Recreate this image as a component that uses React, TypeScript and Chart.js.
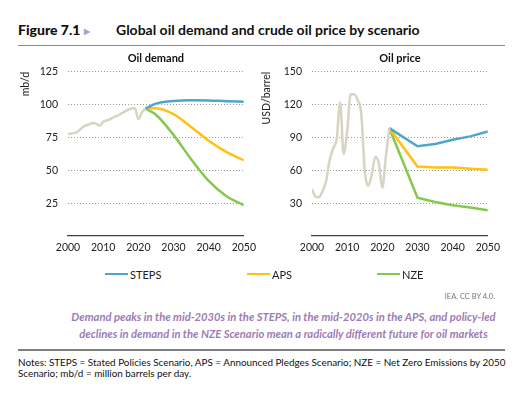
import React, { useEffect, useRef } from 'react';
import { Chart, registerables } from 'chart.js';

Chart.register(...registerables);

// ---------- data ----------
const histYears = [2000, 2001, 2002, 2003, 2004, 2005, 2006, 2007, 2008, 2009, 2010, 2011, 2012, 2013, 2014, 2015, 2016, 2017, 2018, 2019, 2020, 2021, 2022];
const demandHistory = [77.5, 78, 78.5, 80, 82.5, 84, 85, 86, 85.5, 84, 87, 88, 89, 90.5, 91.5, 93, 94.5, 96, 97, 97.5, 89, 94, 97];
const demandProjYears = [2022, 2025, 2030, 2035, 2040, 2045, 2050];
const demandSTEPS = [97, 100.8, 102.8, 103.4, 103.2, 102.6, 102.2];
const demandAPS = [97, 97.3, 92.8, 83, 72.5, 64, 57.5];
const demandNZE = [97, 92.3, 77, 58.5, 42, 30.5, 23.5];

const priceHistory = [43, 36, 35.5, 41, 50, 69, 80, 88, 122, 75, 95.5, 129.5, 129.5, 124, 112, 60, 46, 56, 72.5, 66.5, 44, 72.5, 98.5];
const priceProjYears = [2022, 2030, 2035, 2040, 2045, 2050];
const priceSTEPS = [98.5, 82, 84, 88, 91, 95.5];
const priceAPS = [98.5, 63.5, 62.5, 62.5, 61.5, 60.5];
const priceNZE = [98.5, 35, 31, 28, 26, 23.5];

const scenarioNames = ['STEPS', 'APS', 'NZE'];
const scenarioColors = ['#4EA6C9', '#FFC20E', '#86C750'];
const historyColor = '#D8D4C2';

const xTickStep = 10;
const demandTicks = { max: 125, step: 25 };
const priceTicks = { max: 150, step: 30 };

const FONT = 'Lato, "Liberation Sans", sans-serif';

function pts(xs: number[], ys: number[]) {
  return xs.map((x, i) => ({ x, y: ys[i] }));
}

type ChartProps = {
  left: number;
  top: number;
  width: number;
  height: number;
  title: string;
  yTitle: string;
  yTitlePad: number;
  yWidth: number;
  yMax: number;
  yStep: number;
  history: number[];
  projYears: number[];
  series: number[][];
  smooth: boolean;
};

function LineChart(p: ChartProps) {
  const ref = useRef<HTMLCanvasElement | null>(null);
  useEffect(() => {
    if (!ref.current) return;
    const datasets: any[] = [
      {
        label: 'History',
        data: pts(histYears, p.history),
        borderColor: historyColor,
        borderWidth: 2.5,
        pointRadius: 0,
        cubicInterpolationMode: 'monotone',
        tension: 0.4,
      },
    ];
    p.series.forEach((s, i) => {
      datasets.push({
        label: scenarioNames[i],
        data: pts(p.projYears, s),
        borderColor: scenarioColors[i],
        borderWidth: 2.5,
        pointRadius: 0,
        cubicInterpolationMode: p.smooth ? 'monotone' : 'default',
        tension: p.smooth ? 0.4 : 0,
      });
    });
    const chart = new Chart(ref.current, {
      type: 'line',
      data: { datasets },
      options: {
        animation: false,
        responsive: false,
        maintainAspectRatio: false,
        layout: { padding: { left: 0, right: 14, top: 0, bottom: 0 } },
        plugins: {
          legend: { display: false },
          tooltip: { enabled: false },
          title: {
            display: true,
            text: p.title,
            fullSize: false,
            color: '#111',
            font: { family: FONT, size: 11, weight: 'bold' },
            padding: { top: 4, bottom: 6.6 },
          },
        },
        scales: {
          x: {
            type: 'linear',
            min: 2000,
            max: 2050,
            ticks: {
              stepSize: xTickStep,
              color: '#222',
              font: { family: FONT, size: 10.5 },
              padding: 5,
              maxRotation: 0,
              callback: (v: any) => String(v),
            },
            grid: { display: false, drawTicks: false },
            border: { display: true, color: '#404040', width: 1.2 },
            afterFit: (s: any) => {
              s.height = 20;
            },
          },
          y: {
            min: 0,
            max: p.yMax,
            ticks: {
              stepSize: p.yStep,
              color: '#222',
              font: { family: FONT, size: 10.5 },
              padding: 10,
              callback: (v: any) => (v === 0 ? '' : String(v)),
            },
            grid: {
              drawTicks: false,
              color: (ctx: any) => (ctx.tick && ctx.tick.value === 0 ? 'rgba(0,0,0,0)' : '#9a9a9a'),
              lineWidth: 1,
            },
            border: { display: false, dash: [1, 2] },
            title: {
              display: true,
              text: p.yTitle,
              align: 'end',
              color: '#222',
              font: { family: FONT, size: 10.5 },
              padding: { top: p.yTitlePad, bottom: 0 },
            },
            afterFit: (s: any) => {
              s.width = p.yWidth;
            },
          },
        },
      } as any,
    });
    return () => chart.destroy();
  }, []);
  return (
    <canvas
      ref={ref}
      width={p.width}
      height={p.height}
      style={{ position: 'absolute', left: p.left, top: p.top, width: p.width, height: p.height }}
    />
  );
}

function LegendItem({ x, name, color }: { x: number; name: string; color: string }) {
  return (
    <div style={{ position: 'absolute', left: x, top: 267, height: 14, display: 'flex', alignItems: 'center' }}>
      <div style={{ width: 23, height: 2.5, background: color }} />
      <span style={{ marginLeft: 2, fontSize: 11, color: '#222', fontFamily: FONT }}>{name}</span>
    </div>
  );
}

export default function App() {
  const legendX = [105, 247, 377];
  return (
    <div
      style={{
        position: 'fixed',
        left: 0,
        top: 0,
        width: 529,
        height: 395,
        background: '#fff',
        fontFamily: FONT,
        overflow: 'hidden',
      }}
    >
      {/* Title */}
      <div style={{ position: 'absolute', left: 18, top: 21, fontSize: 14, fontWeight: 900, color: '#111', whiteSpace: 'nowrap', lineHeight: '18px' }}>
        Figure 7.1 <span style={{ color: '#B69AD0', fontSize: 8, verticalAlign: 1 }}>▶</span>
      </div>
      <div style={{ position: 'absolute', left: 116, top: 21, fontSize: 14, fontWeight: 700, color: '#111', whiteSpace: 'nowrap', lineHeight: '18px' }}>
        Global oil demand and crude oil price by scenario
      </div>
      <div style={{ position: 'absolute', left: 18, top: 44.5, width: 487, height: 1, background: '#8a8a8a' }} />

      <LineChart
        left={14}
        top={48}
        width={247}
        height={208}
        title="Oil demand"
        yTitle="mb/d"
        yTitlePad={5.4}
        yWidth={54}
        yMax={demandTicks.max}
        yStep={demandTicks.step}
        history={demandHistory}
        projYears={demandProjYears}
        series={[demandSTEPS, demandAPS, demandNZE]}
        smooth={true}
      />
      <LineChart
        left={258}
        top={48}
        width={247}
        height={208}
        title="Oil price"
        yTitle="USD/barrel"
        yTitlePad={2.4}
        yWidth={54}
        yMax={priceTicks.max}
        yStep={priceTicks.step}
        history={priceHistory}
        projYears={priceProjYears}
        series={[priceSTEPS, priceAPS, priceNZE]}
        smooth={false}
      />

      {scenarioNames.map((n, i) => (
        <LegendItem key={n} x={legendX[i]} name={n} color={scenarioColors[i]} />
      ))}

      <div style={{ position: 'absolute', right: 529 - 495, top: 292, fontSize: 7.5, color: '#777', whiteSpace: 'nowrap' }}>
        IEA. CC BY 4.0.
      </div>

      <div
        style={{
          position: 'absolute',
          left: 40,
          width: 487,
          top: 308,
          textAlign: 'center',
          fontSize: 11.2,
          lineHeight: '17px',
          fontStyle: 'italic',
          fontWeight: 700,
          color: '#9E7BB5',
          whiteSpace: 'nowrap',
        }}
      >
        Demand peaks in the mid-2030s in the STEPS, in the mid-2020s in the APS, and policy-led
        <br />
        declines in demand in the NZE Scenario mean a radically different future for oil markets
      </div>

      <div style={{ position: 'absolute', left: 18, top: 349, width: 487, height: 2, background: '#7f7f7f' }} />

      <div style={{ position: 'absolute', left: 18, top: 357, fontSize: 9.9, lineHeight: '11px', color: '#111', whiteSpace: 'nowrap' }}>
        Notes: STEPS = Stated Policies Scenario, APS = Announced Pledges Scenario; NZE = Net Zero Emissions by 2050
        <br />
        Scenario; mb/d = million barrels per day.
      </div>
    </div>
  );
}
